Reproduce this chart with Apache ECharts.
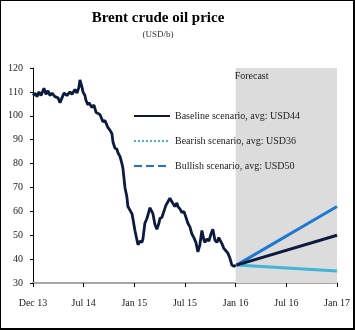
<!DOCTYPE html>
<html><head><meta charset="utf-8">
<script src="https://cdn.jsdelivr.net/npm/echarts@6/dist/echarts.min.js"></script>
<style>
html,body{margin:0;padding:0;background:#fff;}
#frame{position:absolute;left:0;top:0;width:355px;height:330px;box-sizing:border-box;border-left:1px solid #000;border-top:1px solid #000;border-right:2px solid #000;border-bottom:2px solid #000;}
#c{position:absolute;left:0;top:0;width:355px;height:331px;}
</style></head>
<body><div id="c"></div><div id="frame"></div>
<script>
// x values: months since the "Dec 13" tick (ticks every 6 months)
var tickLabels = ["Dec 13","Jul 14","Jan 15","Jul 15","Jan 16","Jul 16","Jan 17"];
var histMonths = [0,0.24,0.47,0.71,0.95,1.30,1.54,1.78,2.01,2.25,2.60,2.96,3.20,3.43,3.67,4.02,4.38,4.62,4.97,5.21,5.44,5.56,5.80,5.92,6.15,6.27,6.51,6.63,6.98,7.22,7.46,7.69,7.93,8.28,8.52,8.88,9.11,9.35,9.47,9.70,9.94,10.06,10.30,10.53,10.65,10.77,10.89,11.12,11.24,11.48,11.72,11.83,12.07,12.31,12.43,12.66,12.90,13.02,13.25,13.49,13.73,13.85,14.08,14.20,14.44,14.67,14.91,15.03,15.27,15.50,15.74,15.98,16.21,16.45,16.57,16.80,17.04,17.16,17.40,17.63,17.87,18.11,18.34,18.58,18.82,19.05,19.29,19.53,19.76,20.00,20.24,20.36,20.59,20.83,21.07,21.30,21.54,21.78,22.01,22.13,22.37,22.60,22.84,23.08,23.31,23.55,23.79,23.91,24.02];
var histValues = [108.5,109.5,108,110,108.5,111.5,109,110.5,108.5,109.5,108,107.5,105.5,107.5,109.5,108.5,110,109,111,109.5,112,115,112,110,108.5,106.5,104.5,105.5,103.5,104.5,101.5,101,100.5,97.5,98,95,94,92.5,89,86.5,86,84.5,83,80,78,74,70,66,62,60.5,59,57,52,48,46,47.5,47,48.5,55,57,60,61.5,61,59,54.5,52.5,55,57,57.5,60,62.5,64,65.5,64,63.5,62,63.5,62,61,59.5,60,57.5,55,53.5,50.5,49,47,43,46,52,48,47,48.5,47.5,50.5,52.5,48,47,49,48,46.5,44.5,43.5,42.5,40.5,37.5,37,36.5,37.5];
var forecastMonths = [24.1, 36];
var baselineValues = [37.5, 50];
var bearishValues = [37.5, 35];
var bullishValues = [37.5, 62];
var forecastRange = [24, 36];
var legendNames = ["Baseline scenario, avg: USD44","Bearish scenario, avg: USD36","Bullish scenario, avg: USD50"];

function pairs(xs, ys){ return xs.map(function(x,i){ return [x, ys[i]]; }); }

var NAVY = '#0b1a3e', LIGHT = '#41b4d8', BLUE = '#1f78cf';
var FONT = 'Liberation Serif';

var chart = echarts.init(document.getElementById('c'), null, {renderer:'canvas'});
chart.setOption({
  animation:false,
  title:[
    {text:'Brent crude oil price', left:153, top:6, textAlign:'center',
     textStyle:{fontFamily:FONT, fontSize:15, fontWeight:'bold', color:'#000'}},
    {text:'(USD/b)', left:153, top:25, textAlign:'center',
     textStyle:{fontFamily:FONT, fontSize:9, fontWeight:'normal', color:'#333'}}
  ],
  grid:{left:33, right:18, top:68, bottom:48, containLabel:false},
  legend:{
    data:legendNames, orient:'vertical', left:128, top:106, itemWidth:36, itemHeight:8, itemGap:15,
    itemStyle:{opacity:0},
    textStyle:{fontFamily:FONT, fontSize:10, color:'#222'}, selectedMode:false
  },
  xAxis:{
    type:'value', min:0, max:36, interval:6,
    axisLine:{lineStyle:{color:'#a6a6a6', width:2}},
    axisTick:{show:true, length:4, lineStyle:{color:'#000', width:1}},
    axisLabel:{fontFamily:FONT, fontSize:10, color:'#222', margin:15,
      formatter:function(v){ return tickLabels[Math.round(v/6)] || ''; }},
    splitLine:{show:false}
  },
  yAxis:{
    type:'value', min:30, max:120, interval:10,
    axisLine:{show:true, lineStyle:{color:'#000', width:1}},
    axisTick:{show:true, length:3, lineStyle:{color:'#000'}},
    axisLabel:{fontFamily:FONT, fontSize:10, color:'#222', margin:10},
    splitLine:{show:false}
  },
  series:[
    {type:'line', name:'history', data:pairs(histMonths, histValues), symbol:'none',
     lineStyle:{color:NAVY, width:2.8}, z:3,
     markArea:{silent:true, itemStyle:{color:'#dcdcdc'},
       label:{show:true, position:'insideTopLeft', offset:[-6,-2], fontFamily:FONT, fontSize:10, color:'#222'},
       data:[[{name:'Forecast', xAxis:forecastRange[0], yAxis:30},{xAxis:forecastRange[1], yAxis:120}]]}},
    {type:'line', name:'bear', data:pairs(forecastMonths, bearishValues), symbol:'none', lineStyle:{color:LIGHT, width:3}, z:4},
    {type:'line', name:'bull', data:pairs(forecastMonths, bullishValues), symbol:'none', lineStyle:{color:BLUE, width:3}, z:4},
    {type:'line', name:'base', data:pairs(forecastMonths, baselineValues), symbol:'none', lineStyle:{color:NAVY, width:3}, z:5},
    {type:'line', name:legendNames[0], data:[], symbol:'none', lineStyle:{color:NAVY, width:2.5, type:'solid'}, itemStyle:{color:NAVY}},
    {type:'line', name:legendNames[1], data:[], symbol:'none', lineStyle:{color:LIGHT, width:2, type:'dotted'}, itemStyle:{color:LIGHT}},
    {type:'line', name:legendNames[2], data:[], symbol:'none', lineStyle:{color:BLUE, width:2.5, type:'dashed'}, itemStyle:{color:BLUE}}
  ]
});
</script></body></html>
